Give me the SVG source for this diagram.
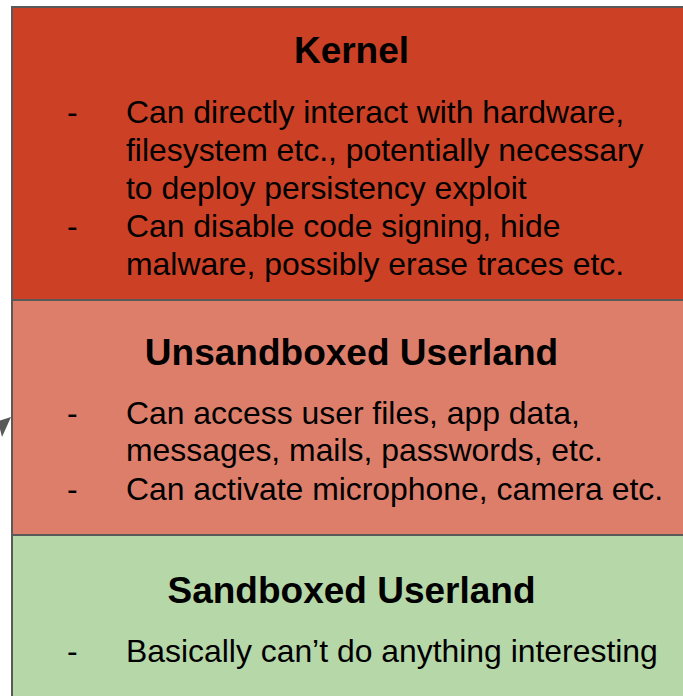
<svg xmlns="http://www.w3.org/2000/svg" width="683" height="696" viewBox="0 0 683 696">
  <style>
    .band { stroke: #595959; stroke-width: 2; }
    .title { font-family: "Liberation Sans", Arial, sans-serif; font-weight: bold; font-size: 37px; fill: #000; text-anchor: middle; }
    .item { font-family: "Liberation Sans", Arial, sans-serif; font-size: 31.9px; fill: #000; }
  </style>
  <rect width="683" height="696" fill="#ffffff"/>

  <!-- connector entering from the left -->
  <g id="connectors">
    <polygon points="11,417 -2,421 2,437" fill="#595959"/>
  </g>

  <g id="kernel">
    <rect class="band" x="12" y="7" width="680" height="293" fill="#cc4125"/>
    <text class="title" x="351.5" y="63">Kernel</text>
    <text class="item" x="67" y="123">-</text>
    <text class="item" x="126" y="123">Can directly interact with hardware,</text>
    <text class="item" x="126" y="161">filesystem etc., potentially necessary</text>
    <text class="item" x="126" y="199">to deploy persistency exploit</text>
    <text class="item" x="67" y="237">-</text>
    <text class="item" x="126" y="237">Can disable code signing, hide</text>
    <text class="item" x="126" y="275">malware, possibly erase traces etc.</text>
  </g>

  <g id="unsandboxed-userland">
    <rect class="band" x="12" y="300" width="680" height="235" fill="#dd7e6b"/>
    <text class="title" x="351.5" y="365">Unsandboxed Userland</text>
    <text class="item" x="67" y="424">-</text>
    <text class="item" x="126" y="424">Can access user files, app data,</text>
    <text class="item" x="126" y="461">messages, mails, passwords, etc.</text>
    <text class="item" x="67" y="500">-</text>
    <text class="item" x="126" y="500">Can activate microphone, camera etc.</text>
  </g>

  <g id="sandboxed-userland">
    <rect class="band" x="12" y="535" width="680" height="170" fill="#b6d7a8"/>
    <text class="title" x="351.5" y="603">Sandboxed Userland</text>
    <text class="item" x="67" y="662">-</text>
    <text class="item" x="126" y="662">Basically can’t do anything interesting</text>
  </g>
</svg>
